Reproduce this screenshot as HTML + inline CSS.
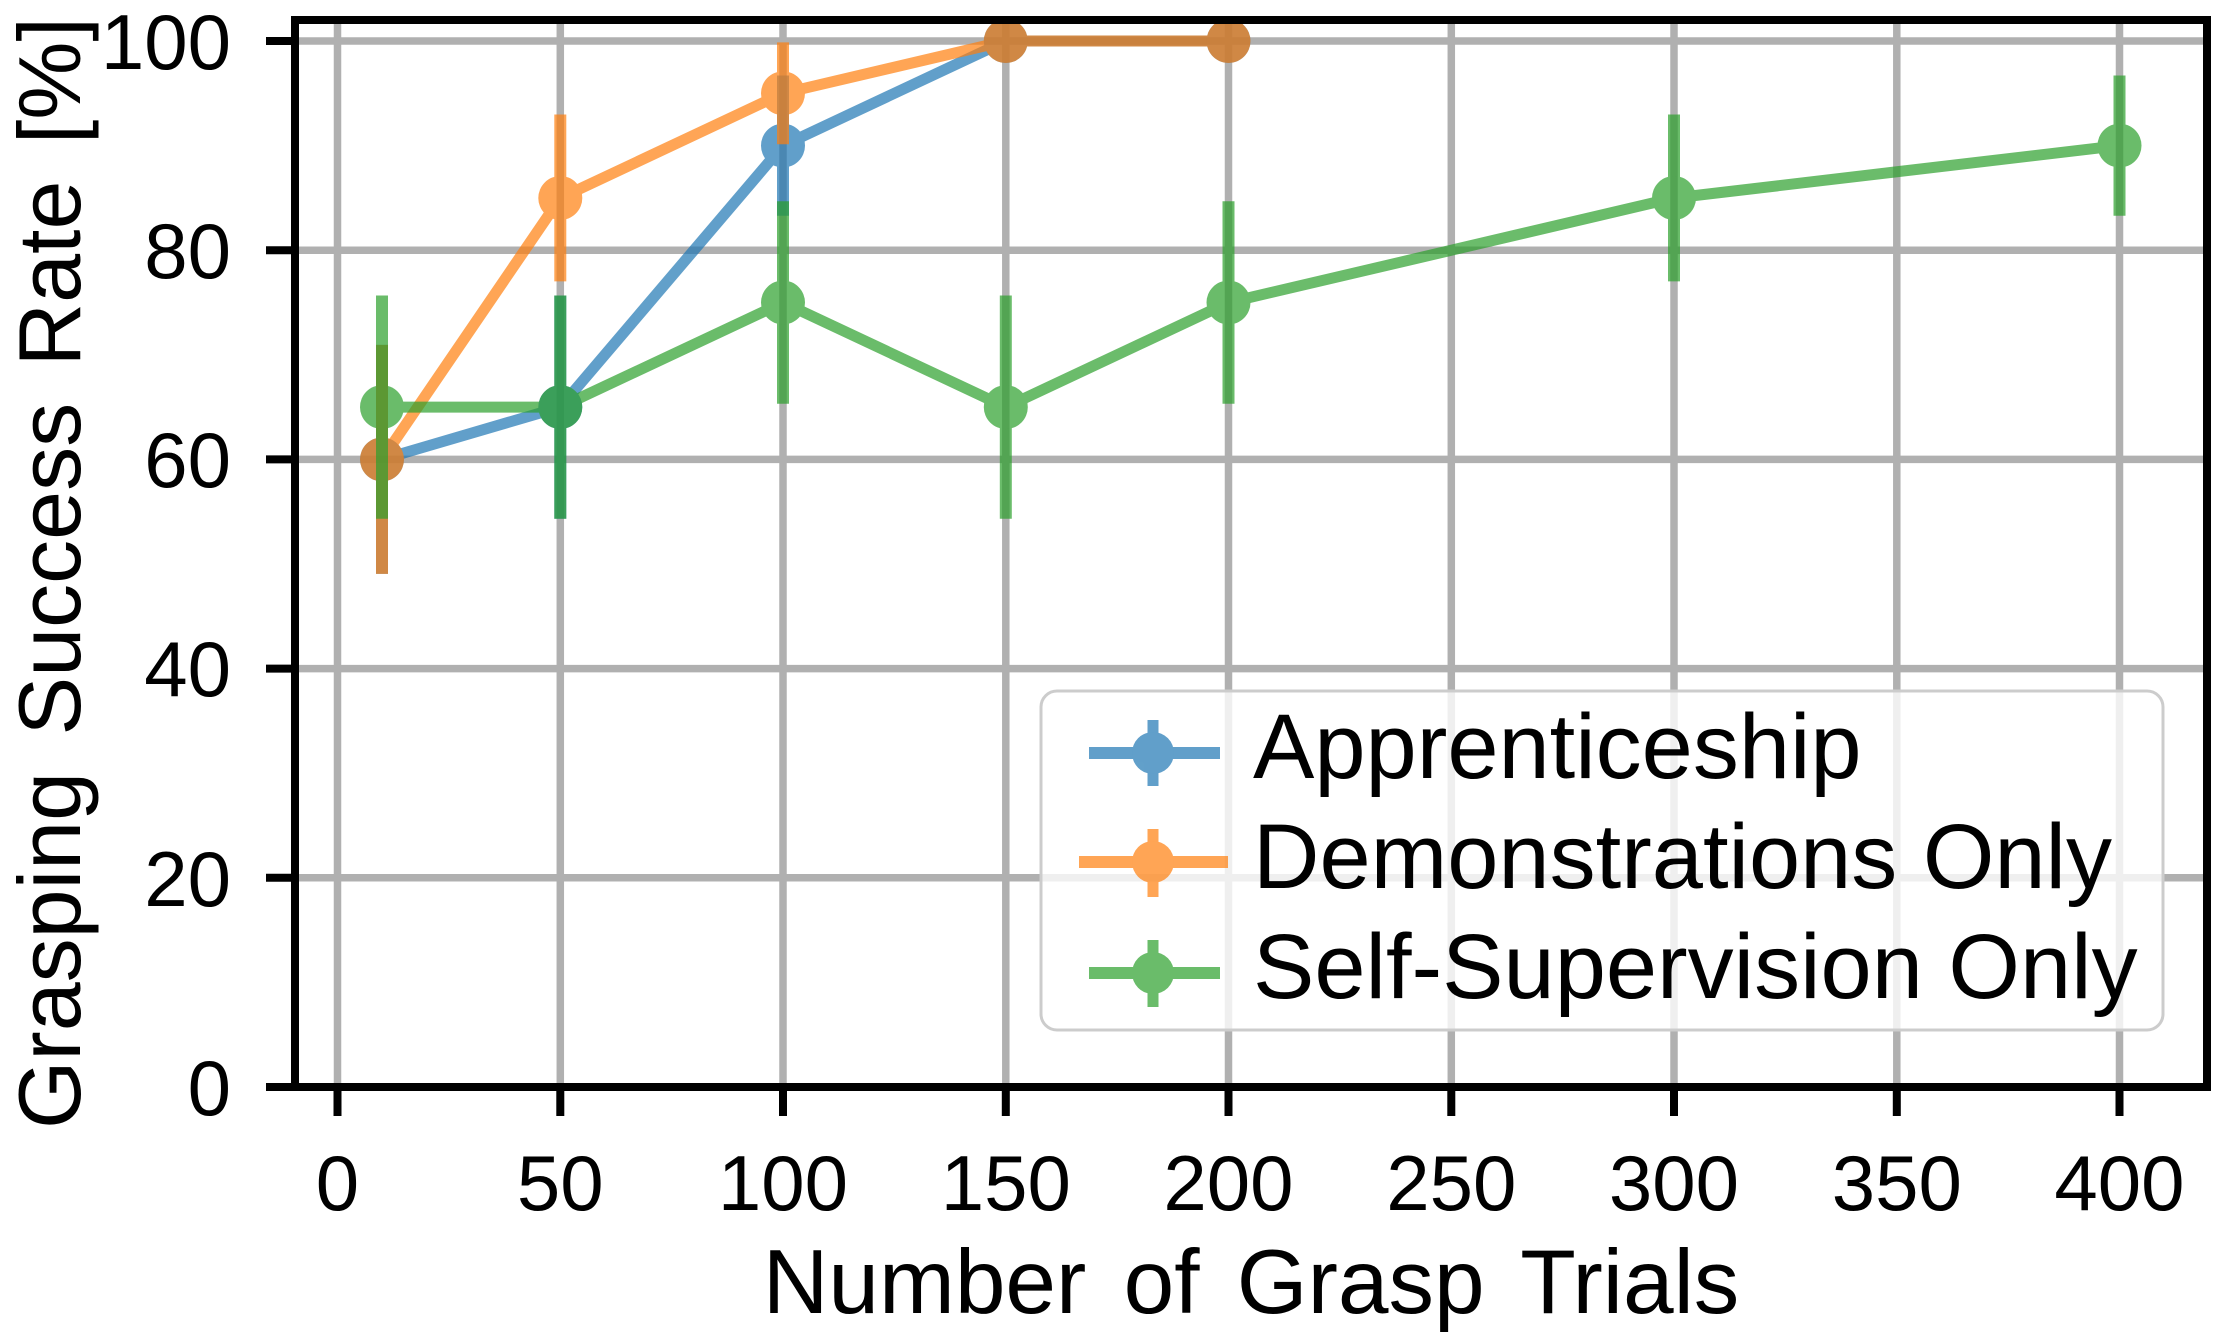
<!DOCTYPE html>
<html><head><meta charset="utf-8"><style>
html,body{margin:0;padding:0;background:#fff;}
svg{display:block;font-family:"Liberation Sans",Arial,sans-serif;}
</style></head><body>
<svg width="2215" height="1340" viewBox="0 0 2215 1340" xmlns="http://www.w3.org/2000/svg">
<rect width="2215" height="1340" fill="#fff"/>
<g stroke="#b0b0b0" stroke-width="7.5">
<line x1="337.5" y1="20" x2="337.5" y2="1087"/>
<line x1="560.3" y1="20" x2="560.3" y2="1087"/>
<line x1="783" y1="20" x2="783" y2="1087"/>
<line x1="1005.8" y1="20" x2="1005.8" y2="1087"/>
<line x1="1228.5" y1="20" x2="1228.5" y2="1087"/>
<line x1="1451.3" y1="20" x2="1451.3" y2="1087"/>
<line x1="1674" y1="20" x2="1674" y2="1087"/>
<line x1="1896.8" y1="20" x2="1896.8" y2="1087"/>
<line x1="2119.5" y1="20" x2="2119.5" y2="1087"/>
<line x1="295" y1="41" x2="2207" y2="41"/>
<line x1="295" y1="250.2" x2="2207" y2="250.2"/>
<line x1="295" y1="459.4" x2="2207" y2="459.4"/>
<line x1="295" y1="668.6" x2="2207" y2="668.6"/>
<line x1="295" y1="877.8" x2="2207" y2="877.8"/>
</g>
<g opacity="0.7" stroke="#1f77b4" fill="#1f77b4">
<polyline fill="none" stroke-width="11" stroke-linejoin="round" points="382,459.4 560.3,407.1 783,145.6 1005.8,41 1228.5,41"/>
<g stroke-width="12">
<line x1="382" y1="344.9" x2="382" y2="573.9"/>
<line x1="560.3" y1="295.5" x2="560.3" y2="518.7"/>
<line x1="783" y1="75.5" x2="783" y2="215.7"/>
</g>
<g stroke="none">
<circle cx="382" cy="459.4" r="22"/><circle cx="560.3" cy="407.1" r="22"/><circle cx="783" cy="145.6" r="22"/><circle cx="1005.8" cy="41" r="22"/><circle cx="1228.5" cy="41" r="22"/>
</g>
</g>
<g opacity="0.7" stroke="#ff7f0e" fill="#ff7f0e">
<polyline fill="none" stroke-width="11" stroke-linejoin="round" points="382,459.4 560.3,198 783,93.3 1005.8,41 1228.5,41"/>
<g stroke-width="12">
<line x1="382" y1="344.9" x2="382" y2="573.9"/>
<line x1="560.3" y1="114.5" x2="560.3" y2="281.4"/>
<line x1="783" y1="42.4" x2="783" y2="144.2"/>
</g>
<g stroke="none">
<circle cx="382" cy="459.4" r="22"/><circle cx="560.3" cy="198" r="22"/><circle cx="783" cy="93.3" r="22"/><circle cx="1005.8" cy="41" r="22"/><circle cx="1228.5" cy="41" r="22"/>
</g>
</g>
<g opacity="0.7" stroke="#2ca02c" fill="#2ca02c">
<polyline fill="none" stroke-width="11" stroke-linejoin="round" points="382,407.1 560.3,407.1 783,302.5 1005.8,407.1 1228.5,302.5 1674,198 2119.5,145.6"/>
<g stroke-width="12">
<line x1="382" y1="295.5" x2="382" y2="518.7"/>
<line x1="560.3" y1="295.5" x2="560.3" y2="518.7"/>
<line x1="783" y1="201.3" x2="783" y2="403.8"/>
<line x1="1005.8" y1="295.5" x2="1005.8" y2="518.7"/>
<line x1="1228.5" y1="201.3" x2="1228.5" y2="403.8"/>
<line x1="1674" y1="114.5" x2="1674" y2="281.4"/>
<line x1="2119.5" y1="75.5" x2="2119.5" y2="215.7"/>
</g>
<g stroke="none">
<circle cx="382" cy="407.1" r="22"/><circle cx="560.3" cy="407.1" r="22"/><circle cx="783" cy="302.5" r="22"/><circle cx="1005.8" cy="407.1" r="22"/><circle cx="1228.5" cy="302.5" r="22"/><circle cx="1674" cy="198" r="22"/><circle cx="2119.5" cy="145.6" r="22"/>
</g>
</g>
<rect x="295" y="20" width="1912" height="1067" fill="none" stroke="#000" stroke-width="8"/>
<g stroke="#000" stroke-width="8">
<line x1="337.5" y1="1087" x2="337.5" y2="1116"/>
<line x1="560.3" y1="1087" x2="560.3" y2="1116"/>
<line x1="783" y1="1087" x2="783" y2="1116"/>
<line x1="1005.8" y1="1087" x2="1005.8" y2="1116"/>
<line x1="1228.5" y1="1087" x2="1228.5" y2="1116"/>
<line x1="1451.3" y1="1087" x2="1451.3" y2="1116"/>
<line x1="1674" y1="1087" x2="1674" y2="1116"/>
<line x1="1896.8" y1="1087" x2="1896.8" y2="1116"/>
<line x1="2119.5" y1="1087" x2="2119.5" y2="1116"/>
<line x1="266" y1="41" x2="295" y2="41"/>
<line x1="266" y1="250.2" x2="295" y2="250.2"/>
<line x1="266" y1="459.4" x2="295" y2="459.4"/>
<line x1="266" y1="668.6" x2="295" y2="668.6"/>
<line x1="266" y1="877.8" x2="295" y2="877.8"/>
<line x1="266" y1="1087" x2="295" y2="1087"/>
</g>
<g font-size="78" fill="#000" text-anchor="middle">
<text x="337.5" y="1210">0</text>
<text x="560.3" y="1210">50</text>
<text x="783" y="1210">100</text>
<text x="1005.8" y="1210">150</text>
<text x="1228.5" y="1210">200</text>
<text x="1451.3" y="1210">250</text>
<text x="1674" y="1210">300</text>
<text x="1896.8" y="1210">350</text>
<text x="2119.5" y="1210">400</text>
</g>
<g font-size="78" fill="#000" text-anchor="end">
<text x="231" y="69">100</text>
<text x="231" y="278">80</text>
<text x="231" y="487">60</text>
<text x="231" y="696">40</text>
<text x="231" y="906">20</text>
<text x="231" y="1115">0</text>
</g>
<text x="1251" y="1313" font-size="91" text-anchor="middle" word-spacing="12">Number of Grasp Trials</text>
<text transform="translate(80,573) rotate(-90)" font-size="88" text-anchor="middle" word-spacing="12">Grasping Success Rate [%]</text>
<rect x="1041" y="691" width="1122" height="339" rx="16" ry="16" fill="#fff" fill-opacity="0.8" stroke="#cccccc" stroke-width="3"/>
<g opacity="0.7" stroke="#1f77b4" fill="#1f77b4">
<line x1="1089" y1="753" x2="1220" y2="753" stroke-width="12"/>
<line x1="1153" y1="720" x2="1153" y2="786" stroke-width="11"/>
<circle cx="1153" cy="753" r="21" stroke="none"/>
</g>
<g opacity="0.7" stroke="#ff7f0e" fill="#ff7f0e">
<line x1="1079" y1="862" x2="1228" y2="862" stroke-width="12"/>
<line x1="1153" y1="829" x2="1153" y2="897" stroke-width="11"/>
<circle cx="1153" cy="862" r="21" stroke="none"/>
</g>
<g opacity="0.7" stroke="#2ca02c" fill="#2ca02c">
<line x1="1089" y1="973" x2="1220" y2="973" stroke-width="12"/>
<line x1="1153" y1="940" x2="1153" y2="1007" stroke-width="11"/>
<circle cx="1153" cy="973" r="21" stroke="none"/>
</g>
<g font-size="92" fill="#000">
<text x="1253" y="778">Apprenticeship</text>
<text x="1253" y="888">Demonstrations Only</text>
<text x="1253" y="998">Self-Supervision Only</text>
</g>
</svg>
</body></html>
